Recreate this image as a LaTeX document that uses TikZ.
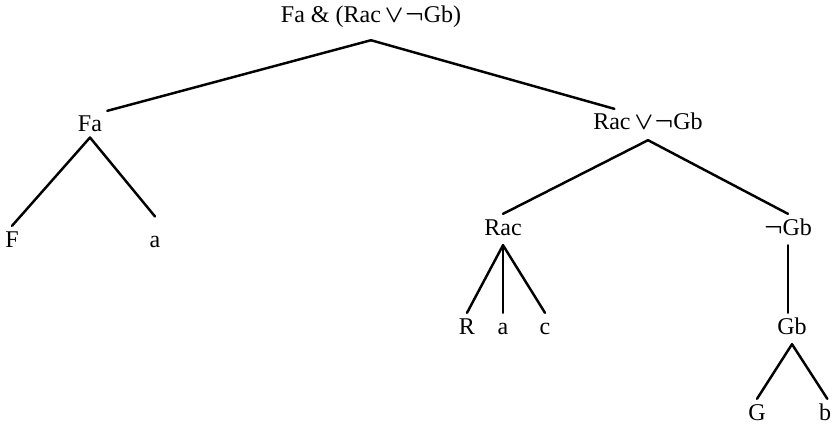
\documentclass[tikz,border=0pt]{standalone}
\usepackage{fontspec}
\setmainfont{Liberation Serif}
\usepackage{tikz}
\newcommand{\orneg}{\,{\boldmath$\vee\mkern1mu\neg$}}
\tikzset{
  wff/.style    = {inner sep=4.25pt, text height=13.6pt,
                   text depth=4.25pt, anchor=base,
                   font=\fontsize{20.5}{24}\selectfont},
  branch/.style = {line width=2.1pt, line cap=round},
}

\begin{document}
\begin{tikzpicture}[x=0.03cm, y=-0.03cm]

  \clip (0,0) rectangle (833,425);

  %% ---- Root formula ----
  \node[wff] (root) at (371,23)  {Fa \& (Rac\orneg Gb)};

  %% ---- Level 1 ----
  \node[wff] (fa)   at (90,132)  {Fa};
  \node[wff] (disj) at (648,130) {Rac\orneg Gb};

  %% ---- Level 2 ----
  \node[wff] (f)    at (12,247)  {F};
  \node[wff] (a1)   at (155,247) {a};
  \node[wff] (rac)  at (503,235) {Rac};
  \node[wff] (ngb)  at (788,235) {{\boldmath$\neg$}Gb};

  %% ---- Level 3 ----
  \node[wff] (r)    at (467,334) {R};
  \node[wff] (a2)   at (503,334) {a};
  \node[wff] (c)    at (545,334) {c};
  \node[wff] (gb)   at (792,334) {Gb};

  %% ---- Level 4 ----
  \node[wff] (g)    at (757,420) {G};
  \node[wff] (b)    at (825,420) {b};

  %% ---- Branches ----
  \draw[branch] ([yshift=-6pt]root.south) -- (fa.north east);
  \draw[branch] ([yshift=-6pt]root.south) -- (disj.155);

  \draw[branch] ([yshift=4pt]fa.south) -- (f.north);
  \draw[branch] ([yshift=4pt]fa.south) -- ([yshift=8pt]a1.north);

  \draw[branch] (disj.south) -- (rac.north);
  \draw[branch] (disj.south) -- (ngb.north);

  \draw[branch] (rac.south) -- (r.north);
  \draw[branch] (rac.south) -- (a2.north);
  \draw[branch] (rac.south) -- (c.north);

  \draw[branch] (ngb.south) -- (ngb.south |- gb.north);

  \draw[branch] (gb.south) -- (g.north);
  \draw[branch] (gb.south) -- ([xshift=2pt]b.north);

\end{tikzpicture}
\end{document}
